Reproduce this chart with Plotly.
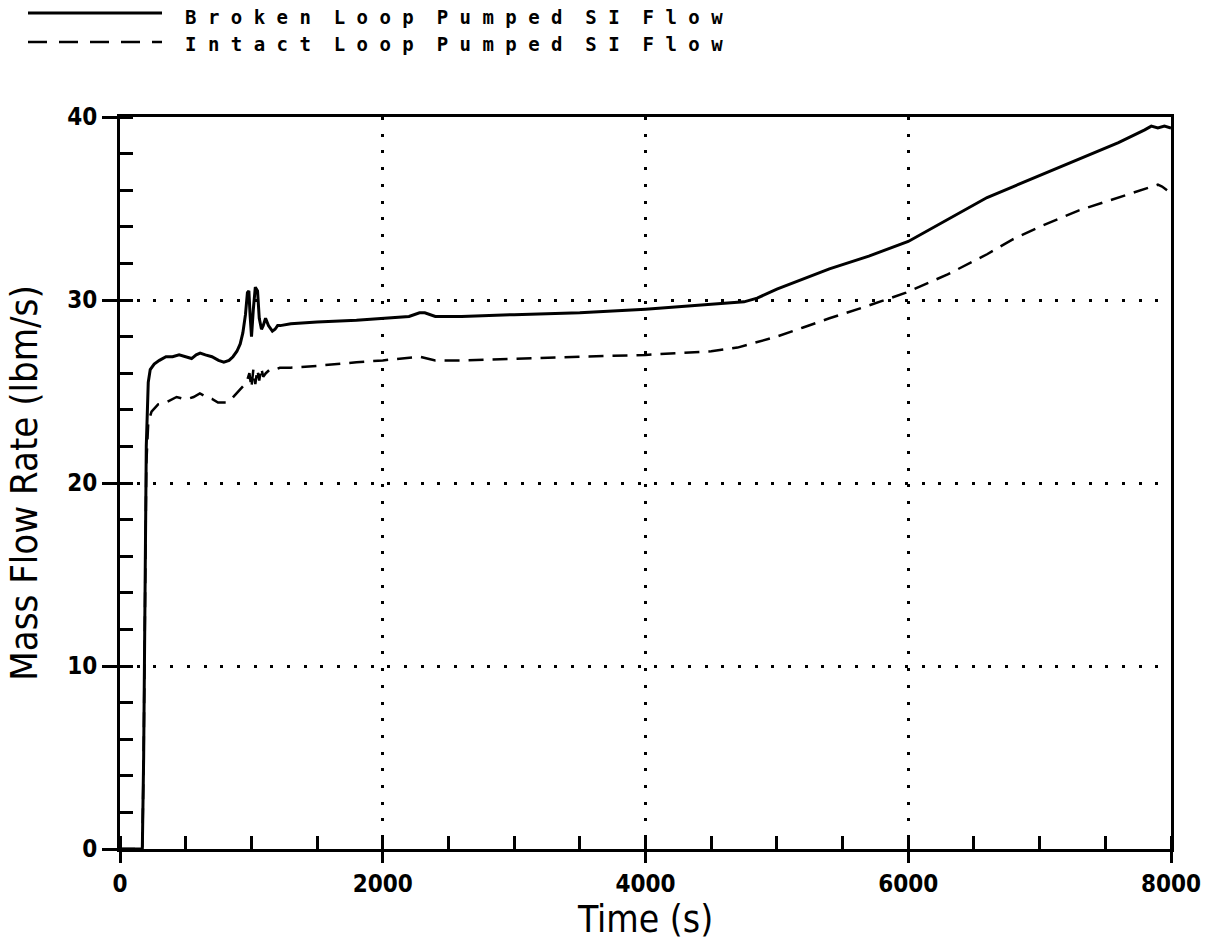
import plotly.graph_objects as go

# ---------------- data ----------------
broken_t = [0, 170, 180, 190, 200, 215, 230, 260, 300, 350, 400, 450, 500, 545, 580, 610,
            650, 700, 750, 790, 830, 860, 890, 915, 935, 955, 970, 981, 990, 1001, 1015,
            1030, 1047, 1060, 1077, 1090, 1108, 1130, 1160, 1180, 1200, 1220, 1300, 1500,
            1800, 2000, 2200, 2280, 2320, 2400, 2600, 3000, 3500, 4000, 4400, 4750, 4850,
            5000, 5400, 5700, 6000, 6300, 6600, 6800, 7000, 7300, 7600, 7800, 7850, 7900,
            7950, 8000]
broken_y = [0, 0, 5, 15, 22, 25.5, 26.2, 26.5, 26.7, 26.9, 26.9, 27.0, 26.9, 26.8, 27.0, 27.1,
            27.0, 26.9, 26.7, 26.6, 26.7, 26.9, 27.2, 27.6, 28.2, 29.2, 30.4, 30.5, 29.2, 28.0,
            29.5, 30.7, 30.5, 29.0, 28.4, 28.6, 29.0, 28.6, 28.3, 28.4, 28.6, 28.6, 28.7, 28.8,
            28.9, 29.0, 29.1, 29.3, 29.3, 29.1, 29.1, 29.2, 29.3, 29.5, 29.7, 29.9, 30.1,
            30.6, 31.7, 32.4, 33.2, 34.4, 35.6, 36.2, 36.8, 37.7, 38.6, 39.3, 39.5, 39.4,
            39.5, 39.4]

intact_t = [0, 170, 180, 190, 200, 215, 240, 290, 350, 431, 480, 517, 560, 608, 659, 700, 746,
            811, 850, 887, 925, 963, 985, 1000, 1015, 1030, 1045, 1060, 1075, 1090, 1110, 1141,
            1180, 1217, 1300, 1500, 1800, 2000, 2282, 2400, 2600, 3000, 3500, 4000, 4300,
            4500, 4700, 4800, 5000, 5200, 5400, 5700, 5983, 6300, 6600, 6792, 7000, 7300,
            7600, 7808, 7900, 7932, 7970]
intact_y = [0, 0, 5, 15, 21, 23.3, 23.9, 24.3, 24.4, 24.7, 24.6, 24.6, 24.7, 24.9, 24.7, 24.6,
            24.4, 24.4, 24.6, 24.9, 25.2, 25.5, 26.0, 25.2, 26.2, 25.4, 26.2, 25.6, 26.3, 25.8,
            26.0, 26.2, 26.2, 26.3, 26.3, 26.4, 26.6, 26.7, 26.9, 26.7, 26.7, 26.8, 26.9, 27.0,
            27.1, 27.2, 27.4, 27.6, 28.0, 28.5, 29.0, 29.7, 30.4, 31.4, 32.5, 33.3, 34.0, 34.9,
            35.6, 36.1, 36.3, 36.2, 36.0]

series_names = ["Broken Loop Pumped SI Flow", "Intact Loop Pumped SI Flow"]
x_ticks = [0, 2000, 4000, 6000, 8000]
y_ticks = [0, 10, 20, 30, 40]
x_title = "Time (s)"
y_title = "Mass Flow Rate (lbm/s)"

NARROW = "Liberation Sans Narrow, Arial Narrow, DejaVu Sans Condensed, sans-serif"

fig = go.Figure()
fig.add_trace(go.Scatter(x=broken_t, y=broken_y, mode="lines", name=series_names[0],
                         line=dict(color="black", width=3), showlegend=False))
fig.add_trace(go.Scatter(x=intact_t, y=intact_y, mode="lines", name=series_names[1],
                         line=dict(color="black", width=2.5, dash="15px,9px"), showlegend=False))

axis_common = dict(
    showline=True, linecolor="black", linewidth=3, mirror=True,
    showgrid=True, gridcolor="black", gridwidth=2.5, griddash="3px,13.7px",
    zeroline=False, ticks="outside", tickcolor="black", tickwidth=2.5,
    tickfont=dict(family=NARROW, size=24, color="black", weight="bold"),
)

fig.update_xaxes(range=[0, 8000], tickvals=x_ticks, ticklen=11,
                 minor=dict(dtick=500, ticks="inside", ticklen=13, tickwidth=2.5,
                            tickcolor="black", showgrid=False),
                 title=dict(text=x_title, font=dict(family=NARROW, size=37, color="black"),
                            standoff=0),
                 **axis_common)
fig.update_yaxes(range=[0, 40], tickvals=y_ticks, ticklen=15,
                 minor=dict(dtick=2, ticks="inside", ticklen=13, tickwidth=2.5,
                            tickcolor="black", showgrid=False),
                 title=dict(text=y_title, font=dict(family=NARROW, size=38, color="black"),
                            standoff=18),
                 **axis_common)

# legend drawn as line samples + spaced text above the plot
def spaced(s):
    return "\u00a0\u00a0".join("\u00a0".join(w) for w in s.split(" "))

L, R, T, B = 120, 42, 117, 100
W, H = 1213, 949
pw, ph = W - L - R, H - T - B
px = lambda x: (x - L) / pw
py = lambda y: (H - B - y) / ph

fig.add_shape(type="line", xref="paper", yref="paper", x0=px(28), x1=px(162),
              y0=py(13), y1=py(13), line=dict(color="black", width=3))
fig.add_shape(type="line", xref="paper", yref="paper", x0=px(28), x1=px(162),
              y0=py(42), y1=py(42), line=dict(color="black", width=2.5, dash="19px,12px"))
for name, yy in zip(series_names, [17, 44]):
    fig.add_annotation(text=spaced(name), xref="paper", yref="paper", x=px(183), y=py(yy),
                       xanchor="left", yanchor="middle", showarrow=False,
                       font=dict(family="DejaVu Sans Mono", size=19, color="black",
                                 weight="bold"))

fig.update_layout(width=W, height=H, margin=dict(l=L, r=R, t=T, b=B),
                  paper_bgcolor="white", plot_bgcolor="white")

fig.write_html("out.html")
